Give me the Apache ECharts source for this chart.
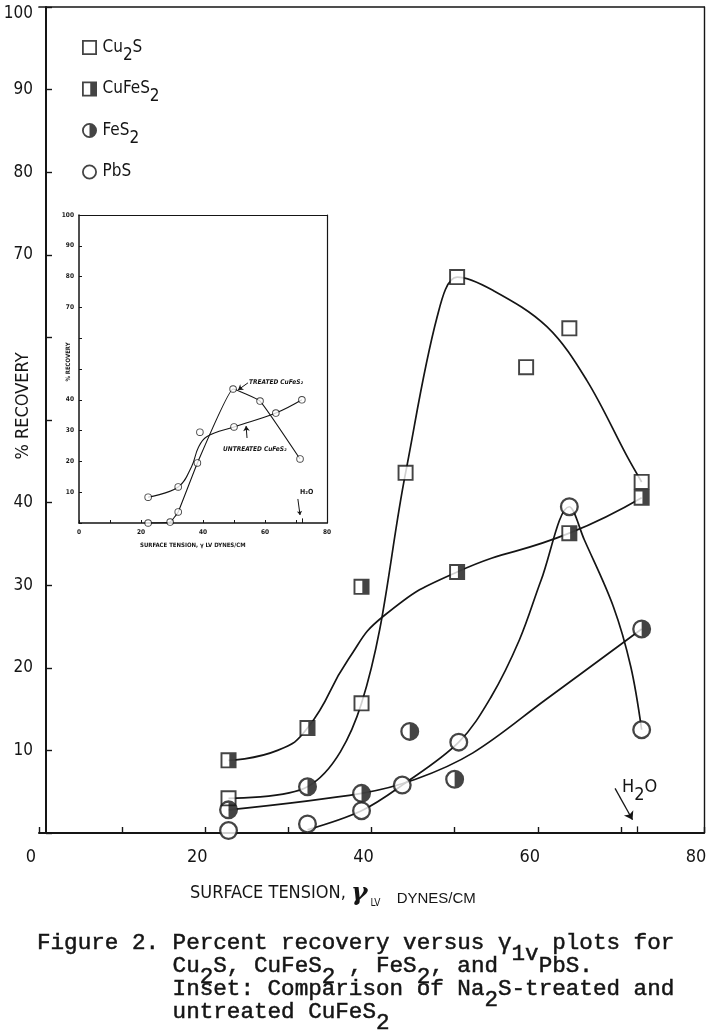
<!DOCTYPE html>
<html><head><meta charset="utf-8">
<script src="https://cdn.jsdelivr.net/npm/echarts@6/dist/echarts.min.js"></script>
<style>html,body{margin:0;padding:0;background:#fff}#c{width:716px;height:1030px}</style>
</head><body><div id="c"></div>
<script>
// ---------------- data ----------------
const xTickLabels = [0, 20, 40, 60, 80];
const yTickLabels = [10, 20, 30, 40, 70, 80, 90, 100];
const seriesNames = ['Cu2S', 'CuFeS2', 'FeS2', 'PbS'];
// measured points [surface tension, % recovery]
const cu2sPts   = [[22.8,4.2],[38.8,15.7],[44.1,43.6],[50.3,67.3],[58.6,56.4],[63.8,61.1],[72.5,42.5]];
const cufes2Pts = [[22.8,8.8],[32.3,12.7],[38.8,29.8],[50.3,31.6],[63.8,36.3],[72.5,40.6]];
const fes2Pts   = [[22.8,2.8],[32.3,5.6],[38.8,4.8],[44.6,12.3],[50.0,6.5],[72.5,24.7]];
const pbsPts    = [[22.8,0.3],[32.3,1.1],[38.8,2.7],[43.7,5.8],[50.5,11.0],[63.8,39.5],[72.5,12.5]];
// hand-drawn fitted curves
const cu2sCurve   = [[22.8,4.2],[32.3,5.6],[38.8,15.7],[44.1,43.6],[47.9,62.5],[50.3,67.3],[54.6,65.7],[61.1,61.3],[65.9,54.8],[70.8,45.5],[72.5,42.5]];
const cufes2Curve = [[22.8,8.8],[28.7,10.0],[32.3,12.7],[37.2,21.0],[41.5,26.3],[50.3,31.6],[63.8,36.3],[72.5,40.6]];
const fes2Curve   = [[22.8,2.8],[38.8,4.8],[45.3,6.5],[52.2,9.7],[60.9,16.1],[72.5,24.7]];
const pbsCurve    = [[32.3,0.4],[38.8,2.7],[43.7,5.8],[50.5,11.0],[54.4,16.5],[57.8,23.4],[60.4,30.6],[63.8,39.5],[65.6,35.5],[69.1,27.4],[71.2,20.1],[72.5,12.5]];
// inset: Na2S-treated vs untreated CuFeS2
const insetTreatedPts     = [[22.3,0],[29.4,0.3],[32.0,3.6],[38.2,19.5],[49.7,43.5],[58.4,39.6],[71.3,20.8]];
const insetUntreatedPts   = [[22.3,8.4],[32.0,11.7],[39.0,29.5],[50.0,31.2],[63.5,35.7],[71.9,40.0]];
const insetTreatedCurve   = [[22.3,0],[29.4,0.3],[32.0,3.6],[38.2,19.5],[49.7,43.5],[58.4,39.6],[71.3,20.8]];
const insetUntreatedCurve = [[22.3,8.4],[32.0,11.7],[36.3,18.3],[38.5,24.5],[41.2,28.0],[50.0,31.2],[63.5,35.7],[71.9,40.0]];
const waterTension = 72;
// annotation arrows (data coordinates)
const mainWaterArrow = [[69.3,5.4],[71.4,1.6]];
const insetWaterArrow = [[70.6,7.8],[71.3,2.6]];
const insetTreatedArrow = [[54.5,45.5],[51.3,43.2]];
const insetUntreatedArrow = [[54.2,27.6],[53.9,31.5]];

// ---------------- styling ----------------
const INK = '#151515';
const NARROW = "'Liberation Sans Narrow','DejaVu Sans Condensed','Liberation Sans',sans-serif";
const MONO = "'Liberation Mono','Courier New',monospace";
const SQ_OPEN = 'path://M0 0H20V20H0Z M2.4 2.4V17.6H17.6V2.4Z';
const SQ_HALF = 'path://M0 0H20V20H0Z M2.4 2.4V17.6H11V2.4Z';
const CI_HALF = 'path://M10 0A10 10 0 0 1 10 20A10 10 0 0 1 10 0Z M10 2.4A7.6 7.6 0 0 0 10 17.6Z';
const CI_OPEN = 'path://M10 0A10 10 0 0 1 10 20A10 10 0 0 1 10 0Z M10 2.4A7.6 7.6 0 0 0 10 17.6A7.6 7.6 0 0 0 10 2.4Z';
const icons = {Cu2S: SQ_OPEN, CuFeS2: SQ_HALF, FeS2: CI_HALF, PbS: CI_OPEN};
const baseShape = {Cu2S: 'rect', CuFeS2: 'rect', FeS2: 'circle', PbS: 'circle'};
const symSize = {Cu2S: 16, CuFeS2: 16, FeS2: 19, PbS: 19};
const pts = {Cu2S: cu2sPts, CuFeS2: cufes2Pts, FeS2: fes2Pts, PbS: pbsPts};
const curves = {Cu2S: cu2sCurve, CuFeS2: cufes2Curve, FeS2: fes2Curve, PbS: pbsCurve};
const smoothness = {Cu2S: 0.35, CuFeS2: 0.5, FeS2: 0.35, PbS: 0.35};
const legendRich = {Cu2S: '{n|Cu}{s|2}{n|S}', CuFeS2: '{n|CuFeS}{s|2}', FeS2: '{n|FeS}{s|2}', PbS: '{n|PbS}{s|\u00a0}'};

const series = [];
seriesNames.forEach(n => {
  series.push({type:'line', name: n + ' curve', xAxisIndex:0, yAxisIndex:0, data: curves[n],
    smooth: smoothness[n], showSymbol:false, silent:true, z:2,
    lineStyle:{color:INK, width:1.7}});
});
seriesNames.forEach(n => {
  series.push({type:'scatter', name: n + ' base', xAxisIndex:0, yAxisIndex:0, data: pts[n],
    symbol: baseShape[n], symbolSize: symSize[n] - 2, silent:true, z:3,
    itemStyle:{color:'#fff'}});
});
seriesNames.forEach(n => {
  series.push({type:'scatter', name: n, xAxisIndex:0, yAxisIndex:0, data: pts[n],
    symbol: icons[n], symbolSize: symSize[n], silent:true, z:4,
    itemStyle:{color:INK}});
});
// water marker / arrow on the main chart
series.push({type:'line', name:'water', xAxisIndex:0, yAxisIndex:0, data:[], silent:true,
  markLine:{silent:true, animation:false, label:{show:false}, lineStyle:{color:INK, width:1.3, type:'solid'},
    data:[
      [{coord: mainWaterArrow[0], symbol:'none'}, {coord: mainWaterArrow[1], symbol:'arrow', symbolSize:8}],
      [{coord:[waterTension,0], symbol:'none'}, {coord:[waterTension,0.8], symbol:'none'}]
    ]}});
// inset
series.push({type:'line', name:'inset treated curve', xAxisIndex:2, yAxisIndex:2, data: insetTreatedCurve,
  smooth:0.1, showSymbol:false, silent:true, z:2, lineStyle:{color:INK, width:1.1},
  markLine:{silent:true, animation:false, label:{show:false}, lineStyle:{color:INK, width:1, type:'solid'},
    data:[
      [{coord: insetTreatedArrow[0], symbol:'none'}, {coord: insetTreatedArrow[1], symbol:'arrow', symbolSize:5}],
      [{coord: insetUntreatedArrow[0], symbol:'none'}, {coord: insetUntreatedArrow[1], symbol:'arrow', symbolSize:5}],
      [{coord: insetWaterArrow[0], symbol:'none'}, {coord: insetWaterArrow[1], symbol:'arrow', symbolSize:4}],
      [{coord:[waterTension,0], symbol:'none'}, {coord:[waterTension,1.5], symbol:'none'}]
    ]}});
series.push({type:'line', name:'inset untreated curve', xAxisIndex:2, yAxisIndex:2, data: insetUntreatedCurve,
  smooth:0.4, showSymbol:false, silent:true, z:2, lineStyle:{color:INK, width:1.1}});
[insetTreatedPts, insetUntreatedPts].forEach((d, i) => {
  series.push({type:'scatter', name:'inset base ' + i, xAxisIndex:2, yAxisIndex:2, data:d,
    symbol:'circle', symbolSize:6, silent:true, z:3, itemStyle:{color:'#fff'}});
  series.push({type:'scatter', name:'inset pts ' + i, xAxisIndex:2, yAxisIndex:2, data:d,
    symbol:CI_OPEN, symbolSize:7.5, silent:true, z:4, itemStyle:{color:INK}});
});

function frameX(grid){ return {type:'value', gridIndex:grid, position:'top', min:0, max:80,
  axisLine:{show:true, onZero:false, lineStyle:{color:INK, width: grid===0?1.7:1.2}},
  axisTick:{show:false}, axisLabel:{show:false}, splitLine:{show:false}}; }
function frameY(grid){ return {type:'value', gridIndex:grid, position:'right', min:0, max:100,
  axisLine:{show:true, onZero:false, lineStyle:{color:INK, width: grid===0?1.4:1.2}},
  axisTick:{show:false}, axisLabel:{show:false}, splitLine:{show:false}}; }

const option = {
  animation:false,
  backgroundColor:'#fff',
  grid:[
    {left:39, right:12, top:7, bottom:197, containLabel:false},
    {left:79, top:215, width:248, height:308, containLabel:false}
  ],
  xAxis:[
    {type:'value', gridIndex:0, position:'bottom', min:0, max:80, interval:10,
      axisLine:{onZero:false, lineStyle:{color:INK, width:2}},
      axisTick:{inside:true, length:6, lineStyle:{color:INK, width:1.4}},
      axisLabel:{color:INK, fontSize:18, fontFamily:NARROW, margin:15, padding:[0,16,0,0],
        formatter: v => xTickLabels.includes(v) ? String(v) : ''},
      splitLine:{show:false}},
    frameX(0),
    {type:'value', gridIndex:1, position:'bottom', min:0, max:80, interval:10,
      axisLine:{onZero:false, lineStyle:{color:INK, width:1.5}},
      axisTick:{inside:true, length:3, lineStyle:{color:INK, width:1}},
      axisLabel:{color:INK, fontSize:6.5, fontWeight:'bold', fontFamily:NARROW, margin:6,
        formatter: v => xTickLabels.includes(v) ? String(v) : ''},
      splitLine:{show:false}},
    frameX(1)
  ],
  yAxis:[
    {type:'value', gridIndex:0, position:'left', offset:-7, min:0, max:100, interval:10,
      axisLine:{onZero:false, lineStyle:{color:INK, width:2}},
      axisTick:{inside:true, length:6, lineStyle:{color:INK, width:1.4}},
      axisLabel:{color:INK, fontSize:17, fontFamily:NARROW, margin:13,
        formatter: v => !yTickLabels.includes(v) ? '' : (v === 100 ? '{t|100}' : String(v)),
        rich:{t:{color:INK, fontSize:17, fontFamily:NARROW, padding:[14,0,0,0]}}},
      splitLine:{show:false}},
    frameY(0),
    {type:'value', gridIndex:1, position:'left', min:0, max:100, interval:10,
      axisLine:{onZero:false, lineStyle:{color:INK, width:1.5}},
      axisTick:{inside:true, length:3, lineStyle:{color:INK, width:1}},
      axisLabel:{color:INK, fontSize:6.5, fontWeight:'bold', fontFamily:NARROW, margin:5,
        formatter: v => yTickLabels.includes(v) ? String(v) : ''},
      splitLine:{show:false}},
    frameY(1)
  ],
  legend:{
    orient:'vertical', left:82, top:31, padding:0, itemGap:8.5, itemWidth:16, itemHeight:15,
    selectedMode:false,
    data: seriesNames.map(n => ({name:n, icon: icons[n]})),
    formatter: n => legendRich[n],
    textStyle:{color:INK, fontFamily:NARROW, fontSize:17,
      rich:{
        n:{color:INK, fontFamily:NARROW, fontSize:17, lineHeight:34},
        s:{color:INK, fontFamily:NARROW, fontSize:17, lineHeight:34, padding:[16,0,0,0]}
      }}
  },
  graphic:[
    {type:'text', x:23, y:406, rotation:Math.PI/2, silent:true,
      style:{text:'% RECOVERY', fill:INK, font:'18px ' + NARROW, align:'center', verticalAlign:'middle'}},
    {type:'text', x:190, y:893, silent:true,
      style:{text:'{a|SURFACE TENSION, }{g|γ}{l|LV}{b| DYNES/CM}', align:'left', verticalAlign:'middle', fill:INK,
        rich:{
          a:{fontFamily:NARROW, fontSize:18, fill:INK, color:INK},
          g:{fontFamily:"'DejaVu Serif',serif", fontSize:25, fontWeight:'bold', fontStyle:'italic', fill:INK, color:INK},
          l:{fontFamily:NARROW, fontSize:10, padding:[20,0,0,3], fill:INK, color:INK},
          b:{fontFamily:"'Liberation Sans',sans-serif", fontSize:15, padding:[12,0,0,12], fill:INK, color:INK}
        }}},
    {type:'text', x:622, y:787, silent:true,
      style:{text:'{h|H}{s|2}{h|O}', align:'left', verticalAlign:'middle', fill:INK,
        rich:{h:{fontFamily:NARROW, fontSize:18, color:INK, fill:INK},
              s:{fontFamily:NARROW, fontSize:18, padding:[16,0,0,0], color:INK, fill:INK}}}},
    // inset texts
    {type:'text', x:68, y:362, rotation:Math.PI/2, silent:true,
      style:{text:'% RECOVERY', fill:INK, font:'bold 6px ' + NARROW, align:'center', verticalAlign:'middle'}},
    {type:'text', x:140, y:545, silent:true,
      style:{text:'SURFACE TENSION, γ LV DYNES/CM', fill:INK, font:'bold 6px ' + NARROW, align:'left', verticalAlign:'middle'}},
    {type:'text', x:249, y:382, silent:true,
      style:{text:'TREATED CuFeS₂', fill:INK, font:'italic bold 6.5px ' + NARROW, align:'left', verticalAlign:'middle'}},
    {type:'text', x:223, y:449, silent:true,
      style:{text:'UNTREATED CuFeS₂', fill:INK, font:'italic bold 6.5px ' + NARROW, align:'left', verticalAlign:'middle'}},
    {type:'text', x:300, y:492, silent:true,
      style:{text:'H₂O', fill:INK, font:'bold 7px ' + NARROW, align:'left', verticalAlign:'middle'}}
  ],
  series: series
};

// caption (typewritten, monospace)
const CAP_FS = 22.6, CW = CAP_FS * 0.6, CAP_X = 37;
const captionLines = [
  {col:0,  y:943,  text:'{n|Figure 2. Percent recovery versus γ}{s|1v}{n| plots for}'},
  {col:10, y:966,  text:'{n|Cu}{s|2}{n|S, CuFeS}{s|2}{n| , FeS}{s|2}{n|, and   PbS.}'},
  {col:10, y:989,  text:'{n|Inset: Comparison of Na}{s|2}{n|S-treated and}'},
  {col:10, y:1012, text:'{n|untreated CuFeS}{s|2}'}
];
captionLines.forEach(l => {
  option.graphic.push({type:'text', x: CAP_X + l.col * CW, y: l.y, silent:true,
    style:{text:l.text, align:'left', verticalAlign:'middle', fill:INK,
      rich:{n:{fontFamily:MONO, fontSize:CAP_FS, color:INK, fill:INK, stroke:INK, lineWidth:0.5},
            s:{fontFamily:MONO, fontSize:CAP_FS, padding:[22,0,0,0], color:INK, fill:INK, stroke:INK, lineWidth:0.5}}}});
});

const chart = echarts.init(document.getElementById('c'), null, {renderer:'canvas'});
chart.setOption(option);
</script></body></html>
